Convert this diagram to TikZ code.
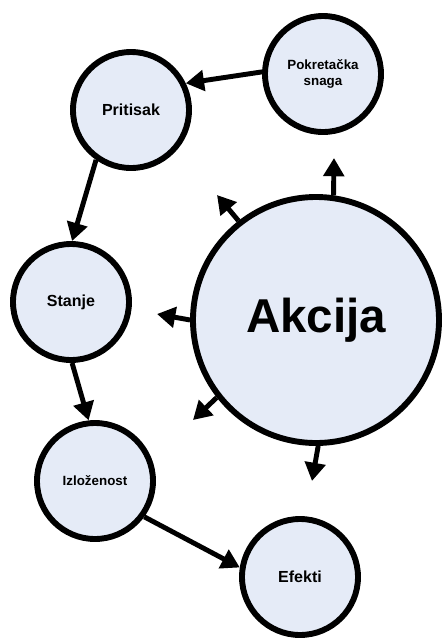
\documentclass[tikz,border=0pt]{standalone}
\usepackage{fontspec}
\setmainfont{Liberation Sans}
\usetikzlibrary{arrows.meta}
\definecolor{krug}{RGB}{229,235,247}

\begin{document}
\begin{tikzpicture}[
    faza/.style={circle, draw, line width=4.2pt, fill=krug, minimum size=2.9cm, inner sep=0pt, align=center, font=\bfseries\fontsize{11.4}{13}\selectfont},
    sitno/.style={font=\bfseries\fontsize{9.5}{11}\selectfont},
    veza/.style={->, line width=3.5pt},
    >={Triangle[length=13pt,width=14.5pt]}
]
    \useasboundingbox (0,0) rectangle (11.05,-15.95);

    \node[faza, sitno] (pokretacka) at (8.075,-1.85) {Pokretačka\\snaga};
    \node[faza] (pritisak) at (3.275,-2.75) {Pritisak};
    \node[faza] (stanje) at (1.775,-7.55) {Stanje};
    \node[faza, minimum size=6.15cm, font=\bfseries\fontsize{33.8}{40}\selectfont] (akcija) at (7.9,-8.0) {Akcija};
    \node[faza, sitno] (izlozenost) at (2.375,-12.025) {Izloženost};
    \node[faza] (efekti) at (7.5,-14.425) {Efekti};

    \draw[veza] (pokretacka.178) -- (pritisak.26);
    \draw[veza] (pritisak.235) -- (stanje.89);
    \draw[veza] (stanje.271) -- (izlozenost.96);
    \draw[veza] (izlozenost.324) -- (efekti.171);

    % kratke strelice iz akcije
    \coordinate (gore) at (8.35,-3.95);
    \coordinate (goreLijevo) at (5.425,-4.875);
    \coordinate (lijevo) at (3.925,-7.85);
    \coordinate (doljeLijevo) at (4.825,-10.5);
    \coordinate (dolje) at (7.8,-12.025);

    \draw[veza] (akcija.82) -- (gore);
    \draw[veza] (akcija.128) -- (goreLijevo);
    \draw[veza] (akcija.180) -- (lijevo);
    \draw[veza] (akcija.218) -- (doljeLijevo);
    \draw[veza] (akcija.271) -- (dolje);
\end{tikzpicture}
\end{document}
